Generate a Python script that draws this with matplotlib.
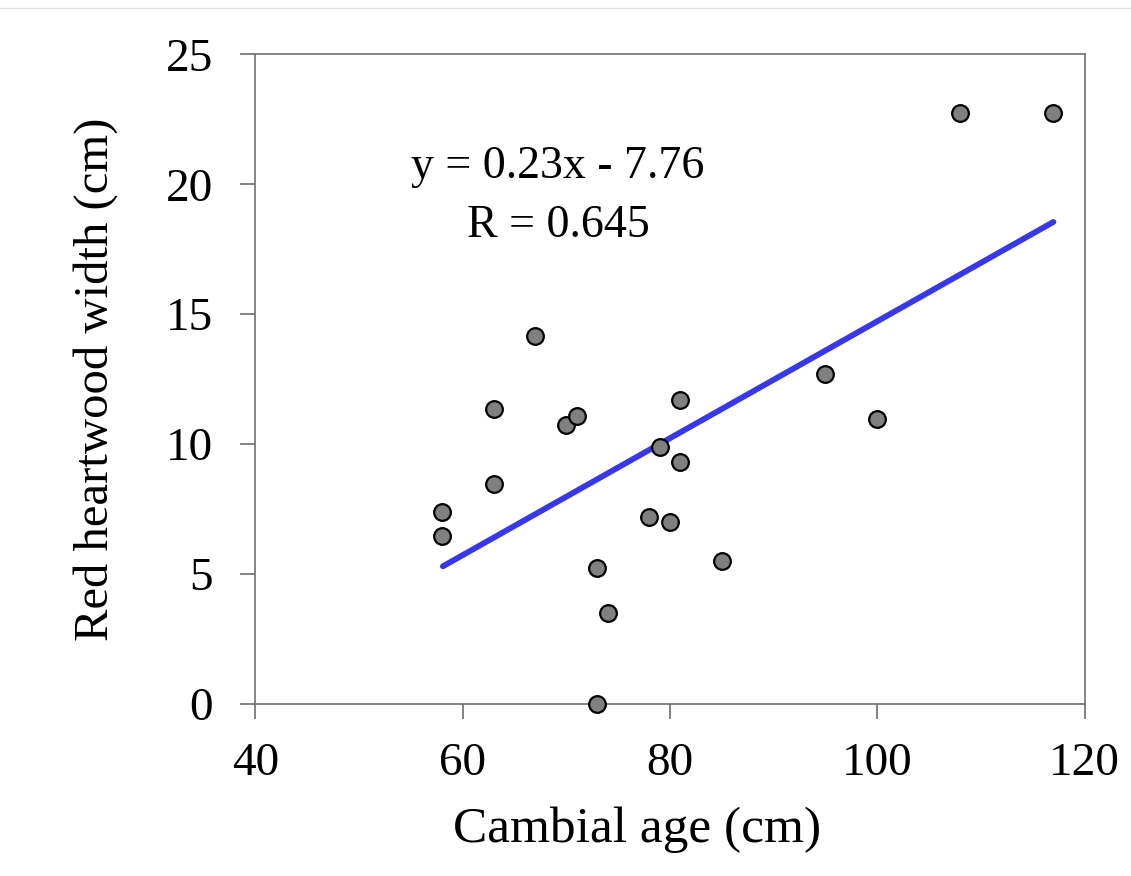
import matplotlib.pyplot as plt
from matplotlib.lines import Line2D

# cambial age (x) and red heartwood width (y)
cambial_age = [58, 58, 63, 63, 67, 70, 71, 73, 73, 74, 78, 79, 80, 81, 81,
               85, 95, 100, 108, 117]
heartwood_width = [7.4, 6.45, 8.45, 11.35, 14.15, 10.75, 11.1, 5.25, 0.0, 3.5,
                   7.2, 9.9, 7.0, 11.7, 9.3, 5.5, 12.7, 10.95, 22.75, 22.75]

# end points of the fitted trend line
trend_x = [58.1, 117]
trend_y = [5.3, 18.55]

x_ticks = [40, 60, 80, 100, 120]
y_ticks = [0, 5, 10, 15, 20, 25]

plt.rcParams['font.family'] = ['Liberation Serif', 'DejaVu Serif']

fig = plt.figure(figsize=(11.31, 8.76), dpi=100)
ax = fig.add_axes([0.2257, 0.1963, 0.7332, 0.7417])

ax.plot(trend_x, trend_y, color='#3838e8', lw=4.2, solid_capstyle='round', zorder=2)
ax.plot(cambial_age, heartwood_width, 'o', ms=12, mfc='#808080', mec='black',
        mew=1.6, clip_on=False, zorder=3)

ax.set_xlim(40, 120)
ax.set_ylim(0, 25)
ax.set_xticks(x_ticks)
ax.set_yticks(y_ticks)
ax.tick_params(axis='both', direction='out', length=10.5, width=1.1, color='#606060',
               labelsize=34)
ax.tick_params(axis='x', pad=17)
ax.tick_params(axis='y', pad=20)
for sp in ax.spines.values():
    sp.set_color('#707070')
    sp.set_linewidth(1.2)

ax.set_xlabel('Cambial age (cm)', fontsize=37, va='center')
ax.xaxis.set_label_coords(0.46, -0.194)
ax.set_ylabel('Red heartwood width (cm)', fontsize=35, va='center')
ax.yaxis.set_label_coords(-0.192, 0.5)

ax.text(0.365, 0.8096, 'y = 0.23x - 7.76', transform=ax.transAxes, fontsize=33,
        ha='center', va='baseline')
ax.text(0.365, 0.7188, 'R = 0.645', transform=ax.transAxes, fontsize=33,
        ha='center', va='baseline')

# faint border line along the top of the image
fig.add_artist(Line2D([0, 1], [0.991, 0.991], transform=fig.transFigure,
                      color='#e4e4e4', lw=1))

fig.savefig('out.png', dpi=100)
